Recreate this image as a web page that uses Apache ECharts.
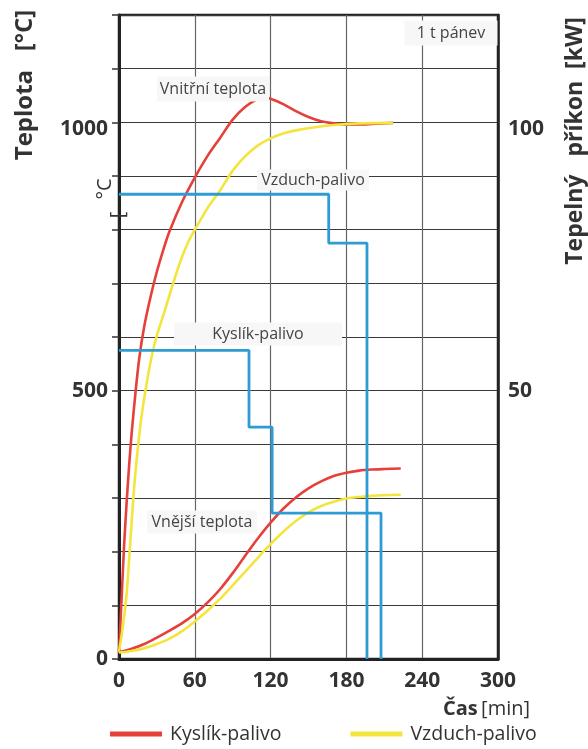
<!DOCTYPE html>
<html>
<head>
<meta charset="utf-8">
<script src="https://cdn.jsdelivr.net/npm/echarts@6/dist/echarts.min.js"></script>
<style>html,body{margin:0;padding:0;background:#fff}#c{width:588px;height:749px}</style>
</head>
<body>
<div id="c"></div>
<script>
// ---- data ----
const xTicks = [0, 60, 120, 180, 240, 300];
const leftTickLabels = [0, 500, 1000];
const rightTickLabels = [50, 100];

// inner temperature (Vnitřní teplota) [min, °C]
const innerOxy = [[0,12],[2,110],[4,210],[6,290],[8,360],[10,420],[13,495],[16,560],[20,620],[25,675],[30,722],[35,762],[40,797],[50,852],[60,897],[70,937],[80,971],[90,1005],[100,1029],[110,1044],[115,1046],[120,1044],[130,1034],[140,1021],[150,1010],[160,1002],[170,998],[180,996],[190,996],[200,997],[217,999]];
const innerAir = [[0,12],[3,60],[6,120],[9,220],[12,320],[15,395],[18,455],[22,515],[26,565],[30,603],[35,640],[40,678],[45,716],[50,750],[55,778],[60,800],[65,820],[70,840],[80,873],[90,910],[100,937],[110,957],[120,970],[130,979],[140,985],[155,991],[170,995],[190,998],[217,999]];
// outer temperature (Vnější teplota) [min, °C]
const outerOxy = [[0,12],[10,19],[20,28],[30,40],[40,53],[50,67],[60,84],[70,105],[80,130],[90,160],[100,193],[110,225],[120,254],[130,280],[140,301],[150,318],[160,331],[170,341],[180,347],[190,351],[200,353],[210,354],[223,355]];
const outerAir = [[0,12],[10,15],[20,20],[30,28],[40,38],[50,52],[60,70],[70,90],[80,112],[90,137],[100,163],[110,189],[120,214],[130,237],[140,257],[150,273],[160,285],[170,293],[180,299],[190,302],[200,304],[223,306]];
// heating power (Tepelný příkon) [min, kW]
const powerAir = [[0,86.6],[166,86.6],[166,77.5],[196.3,77.5],[196.3,0]];
const powerOxy = [[0,57.5],[102.9,57.5],[102.9,43.2],[121.2,43.2],[121.2,27.2],[207.4,27.2],[207.4,0]];

const RED = '#e5403a', YEL = '#f3e53e', BLUE = '#2f9bd3';

const chart = echarts.init(document.getElementById('c'), null, {renderer: 'canvas'});

function tempSeries(name, data, color) {
  return {name, type: 'line', data, yAxisIndex: 0, smooth: 0.3, showSymbol: false, symbol: 'none',
    lineStyle: {color, width: 2.6}, itemStyle: {color}, z: 3};
}
function powerSeries(name, data) {
  return {name, type: 'line', data, yAxisIndex: 1, showSymbol: false, symbol: 'none',
    lineStyle: {color: BLUE, width: 2.8}, itemStyle: {color: BLUE}, z: 4};
}

function box(text, x, y, w, h) {
  return {type: 'text', x, y, z: 50,
    style: {text, font: '16px "Open Sans", sans-serif', fill: '#444', align: 'center', verticalAlign: 'middle',
      backgroundColor: '#f7f7f7', width: w, height: h, padding: 0, lineHeight: h}};
}

chart.setOption({
  animation: false,
  backgroundColor: '#fff',
  grid: {left: 119, right: 90, top: 15, bottom: 90, show: true, borderColor: '#222', borderWidth: 2.5, containLabel: false},
  xAxis: {type: 'value', min: 0, max: 300, interval: 60,
    axisLine: {show: true, lineStyle: {color: '#222', width: 3}},
    axisTick: {show: false},
    axisLabel: {show: true, margin: 12, color: '#333', fontFamily: 'Open Sans', fontWeight: 'bold', fontSize: 21,
      formatter: v => xTicks.includes(v) ? String(v) : ''},
    splitLine: {show: true, lineStyle: {color: '#666', width: 1.2}}},
  yAxis: [
    {type: 'value', min: 0, max: 1200, interval: 100,
      axisLine: {show: true, lineStyle: {color: '#222', width: 3}},
      axisTick: {show: true, inside: false, length: 7, lineStyle: {color: '#333', width: 1.5}},
      axisLabel: {margin: 11, color: '#333', fontFamily: 'Open Sans', fontWeight: 'bold', fontSize: 21,
        formatter: v => leftTickLabels.includes(v) ? (v === 1000 ? '{d|' + v + '}' : String(v)) : '',
        rich: {d: {padding: [14, 0, 0, 0], fontFamily: 'Open Sans', fontWeight: 'bold', fontSize: 21, color: '#333'}}},
      splitLine: {show: true, lineStyle: {color: '#3a3a3a', width: 1.2}}},
    {type: 'value', min: 0, max: 120, interval: 10, position: 'right',
      axisLine: {show: true, lineStyle: {color: '#222', width: 2.5}},
      axisTick: {show: false},
      axisLabel: {margin: 10, color: '#333', fontFamily: 'Open Sans', fontWeight: 'bold', fontSize: 21,
        formatter: v => rightTickLabels.includes(v) ? (v === 100 ? '{d|' + v + '}' : String(v)) : '',
        rich: {d: {padding: [14, 0, 0, 0], fontFamily: 'Open Sans', fontWeight: 'bold', fontSize: 21, color: '#333'}}},
      splitLine: {show: false}}
  ],
  legend: {left: 110, top: 724, padding: 0, itemGap: 69, icon: 'rect', itemWidth: 52, itemHeight: 5,
    textStyle: {fontFamily: 'Open Sans', fontSize: 19.5, color: '#333', padding: [0, 0, 0, 3]},
    data: ['Kyslík-palivo', 'Vzduch-palivo']},
  series: [
    tempSeries('Kyslík-palivo', innerOxy, RED),
    tempSeries('Vzduch-palivo', innerAir, YEL),
    tempSeries('Kyslík-palivo', outerOxy, RED),
    tempSeries('Vzduch-palivo', outerAir, YEL),
    powerSeries('Příkon vzduch-palivo', powerAir),
    powerSeries('Příkon kyslík-palivo', powerOxy)
  ],
  graphic: [
    {type: 'text', x: 25, y: 85, rotation: Math.PI / 2, z: 50,
      style: {text: 'Teplota   [°C]', font: 'bold 24px "Open Sans", sans-serif', fill: '#333', align: 'center', verticalAlign: 'middle'}},
    {type: 'text', x: 575, y: 141, rotation: Math.PI / 2, z: 50,
      style: {text: 'Tepelný   příkon  [kW]', font: 'bold 23px "Open Sans", sans-serif', fill: '#333', align: 'center', verticalAlign: 'middle'}},
    {type: 'text', x: 105, y: 189, rotation: Math.PI / 2, z: 50,
      style: {text: '°C', font: '20px "Open Sans", sans-serif', fill: '#333', align: 'center', verticalAlign: 'middle'}},
    {type: 'text', x: 118, y: 215, rotation: Math.PI / 2, z: 50,
      style: {text: '[', font: '20px "Open Sans", sans-serif', fill: '#333', align: 'center', verticalAlign: 'middle'}},
    {type: 'text', x: 443, y: 709, z: 50,
      style: {text: '{b|Čas} {r|[min]}', align: 'left', verticalAlign: 'middle',
        rich: {b: {font: 'bold 20px "Open Sans", sans-serif', fill: '#333'}, r: {font: '20px "Open Sans", sans-serif', fill: '#333'}}}},
    box('Vnitřní teplota', 213, 89, 112, 25),
    box('Vzduch-palivo', 313, 180, 112, 21),
    box('Kyslík-palivo', 258, 334, 168, 23),
    box('Vnější teplota', 202, 522, 110, 23),
    box('1 t pánev', 451, 33, 93, 25)
  ]
});
</script>
</body>
</html>
